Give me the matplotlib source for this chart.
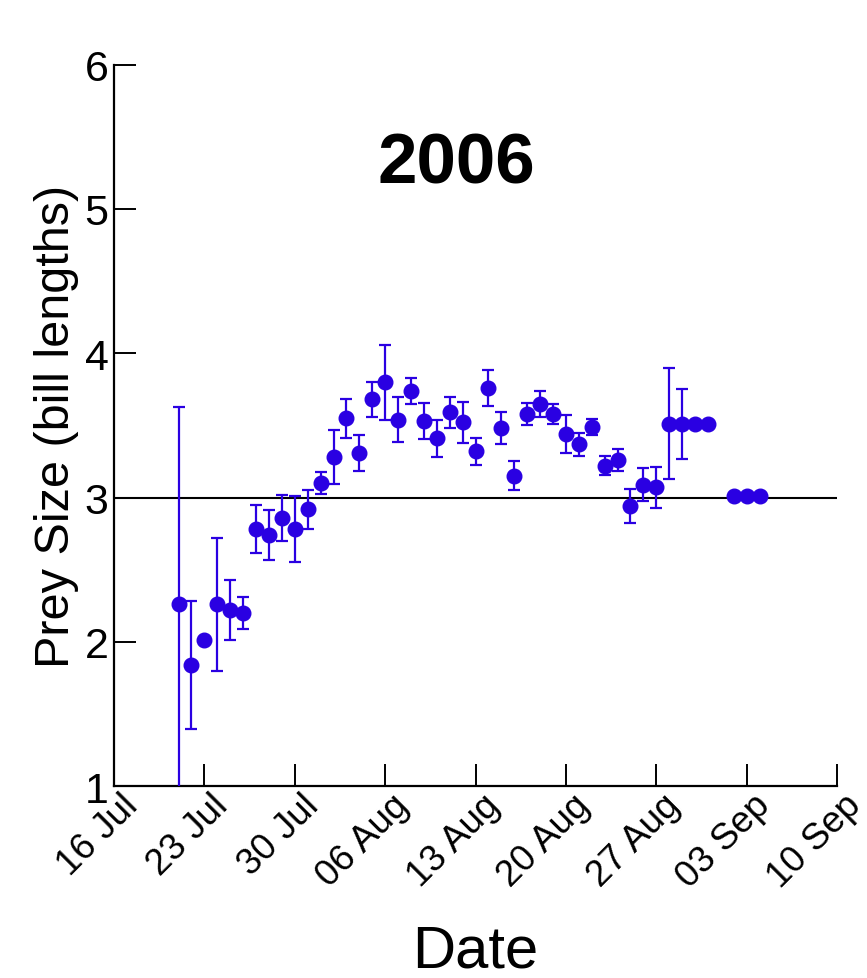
import matplotlib
matplotlib.use('Agg')
import matplotlib.pyplot as plt
import matplotlib.dates as mdates
import matplotlib.transforms as mtransforms
from matplotlib import font_manager
import numpy as np

# daily mean prey size with standard error, 2006 season
dates = ['2006-07-21', '2006-07-22', '2006-07-23', '2006-07-24', '2006-07-25',
         '2006-07-26', '2006-07-27', '2006-07-28', '2006-07-29', '2006-07-30',
         '2006-07-31', '2006-08-01', '2006-08-02', '2006-08-03', '2006-08-04',
         '2006-08-05', '2006-08-06', '2006-08-07', '2006-08-08', '2006-08-09',
         '2006-08-10', '2006-08-11', '2006-08-12', '2006-08-13', '2006-08-14',
         '2006-08-15', '2006-08-16', '2006-08-17', '2006-08-18', '2006-08-19',
         '2006-08-20', '2006-08-21', '2006-08-22', '2006-08-23', '2006-08-24',
         '2006-08-25', '2006-08-26', '2006-08-27', '2006-08-28', '2006-08-29',
         '2006-08-30', '2006-08-31', '2006-09-02', '2006-09-03', '2006-09-04']
prey_size = [2.26, 1.84, 2.01, 2.26, 2.22, 2.20, 2.78, 2.74, 2.86, 2.78,
             2.92, 3.10, 3.28, 3.55, 3.31, 3.68, 3.80, 3.54, 3.74, 3.53,
             3.41, 3.59, 3.52, 3.32, 3.76, 3.48, 3.15, 3.58, 3.65, 3.58,
             3.44, 3.37, 3.49, 3.22, 3.26, 2.94, 3.09, 3.07, 3.51, 3.51,
             3.51, 3.51, 3.01, 3.01, 3.01]
std_err = [1.37, 0.445, np.nan, 0.46, 0.205, 0.11, 0.165, 0.17, 0.16, 0.23,
           0.135, 0.075, 0.185, 0.135, 0.125, 0.12, 0.26, 0.155, 0.09, 0.125,
           0.13, 0.105, 0.145, 0.095, 0.125, 0.11, 0.10, 0.075, 0.09, 0.07,
           0.135, 0.08, 0.055, 0.065, 0.075, 0.12, 0.115, 0.14, 0.385, 0.245,
           np.nan, np.nan, np.nan, np.nan, np.nan]
week_ticks = ['2006-07-16', '2006-07-23', '2006-07-30', '2006-08-06', '2006-08-13',
              '2006-08-20', '2006-08-27', '2006-09-03', '2006-09-10']
y_ticks = [1, 2, 3, 4, 5, 6]
reference_size = 3

names = {f.name for f in font_manager.fontManager.ttflist}
regular = 'Liberation Sans'
narrow = 'Liberation Sans Narrow' if 'Liberation Sans Narrow' in names else regular
blue = '#2A00E2'

x = np.array(dates, dtype='datetime64[D]')
xt = np.array(week_ticks, dtype='datetime64[D]')

fig = plt.figure(figsize=(8.67, 9.79), dpi=100)
ax = fig.add_axes([0.1315, 0.196, 0.834, 0.737])

ax.axhline(reference_size, color='black', lw=1.5, zorder=1)
ax.errorbar(x, prey_size, yerr=std_err, fmt='o', color=blue, ms=10.5,
            elinewidth=1.6, capsize=4, capthick=1.6, zorder=3)

ax.set_xlim(xt[0], xt[-1])
ax.set_ylim(1, 6)
ax.set_xticks(xt)
ax.xaxis.set_major_formatter(mdates.DateFormatter('%d %b'))
ax.set_yticks(y_ticks)

for side in ['top', 'right']:
    ax.spines[side].set_visible(False)
for side in ['left', 'bottom']:
    ax.spines[side].set_linewidth(1.6)

ax.tick_params(axis='y', direction='in', length=16, width=1.4, pad=4, labelsize=31)
ax.tick_params(axis='x', direction='in', length=16, width=1.4, pad=1, labelsize=26.5)
for lab in ax.get_yticklabels():
    lab.set_family(regular)

# nudge the slanted date labels to the right of their ticks
shift = mtransforms.ScaledTranslation(6 / 100, 0, fig.dpi_scale_trans)
for lab in ax.get_xticklabels():
    lab.set_family(narrow)
    lab.set_rotation(45)
    lab.set_ha('right')
    lab.set_va('top')
    lab.set_rotation_mode('anchor')
    lab.set_transform(lab.get_transform() + shift)

ax.set_ylabel('Prey Size (bill lengths)', family=narrow, fontsize=35, va='center')
ax.yaxis.set_label_coords(-0.079, 0.5)
ax.set_xlabel('Date', family=narrow, fontsize=43, va='baseline')
ax.xaxis.set_label_coords(0.5, -0.250)

ax.text(0.473, 0.837, '2006', transform=ax.transAxes, ha='center', va='baseline',
        fontsize=51, fontweight='bold', family=regular)

fig.savefig('out.png', dpi=100)
